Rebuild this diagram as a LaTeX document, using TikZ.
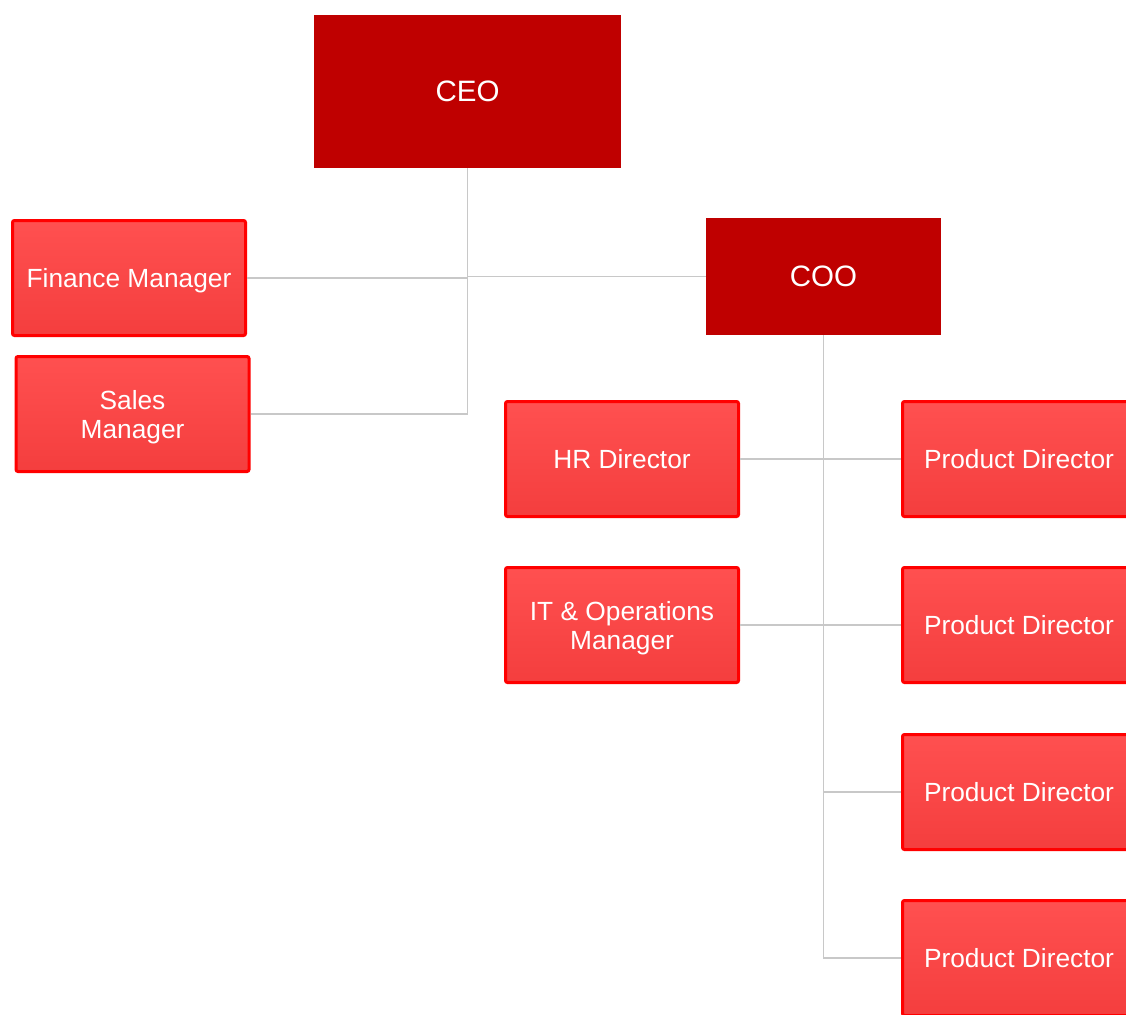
\documentclass[tikz,border=0pt]{standalone}
\usepackage{fontspec}
\setmainfont{Liberation Sans}
\definecolor{topred}{HTML}{BF0000}
\definecolor{boxborder}{HTML}{FF0000}
\definecolor{boxtop}{HTML}{FF5050}
\definecolor{boxbot}{HTML}{F43E3E}
\definecolor{conngray}{HTML}{C8C8C8}
\begin{document}
\begin{tikzpicture}[x=1pt,y=-1pt,
  topbox/.style={fill=topred, text=white, inner sep=0pt, font=\fontsize{29.5}{33}\selectfont},
  subbox/.style={draw=boxborder, line width=3pt, rounded corners=2pt, top color=boxtop, bottom color=boxbot,
    text=white, align=center, minimum width=233pt, minimum height=115pt, inner sep=0pt, text depth=0pt,
    font=\fontsize{26.3}{29}\selectfont},
  conn/.style={draw=conngray, line width=1.3pt}]
\useasboundingbox (0,0) rectangle (1126,1014);
\clip (0,0) rectangle (1126,1014);
\node[topbox, minimum width=307pt, minimum height=153pt] (ceo) at (467.5,91.5) {CEO};
\node[topbox, minimum width=235pt, minimum height=117pt] (coo) at (823.5,276.5) {COO};
\node[subbox] (fin) at (129,278) {Finance Manager};
\node[subbox] (sales) at (132.5,414) {Sales\\Manager};
\node[subbox] (hr) at (622,459) {HR Director};
\node[subbox] (it) at (622,625) {IT \& Operations\\Manager};
\node[subbox] (pd1) at (1019,459) {Product Director};
\node[subbox] (pd2) at (1019,625) {Product Director};
\node[subbox] (pd3) at (1019,792) {Product Director};
\node[subbox] (pd4) at (1019,958) {Product Director};
\draw[conn] (ceo.south) -- (ceo.south |- sales.east) -- (sales.east);
\draw[conn] (fin.east) -- (ceo.south |- fin.east);
\draw[conn] (ceo.south |- coo.west) -- (coo.west);
\draw[conn] (coo.south) -- (coo.south |- pd4.west) -- (pd4.west);
\draw[conn] (hr.east) -- (pd1.west);
\draw[conn] (it.east) -- (pd2.west);
\draw[conn] (coo.south |- pd3.west) -- (pd3.west);
\end{tikzpicture}
\end{document}
